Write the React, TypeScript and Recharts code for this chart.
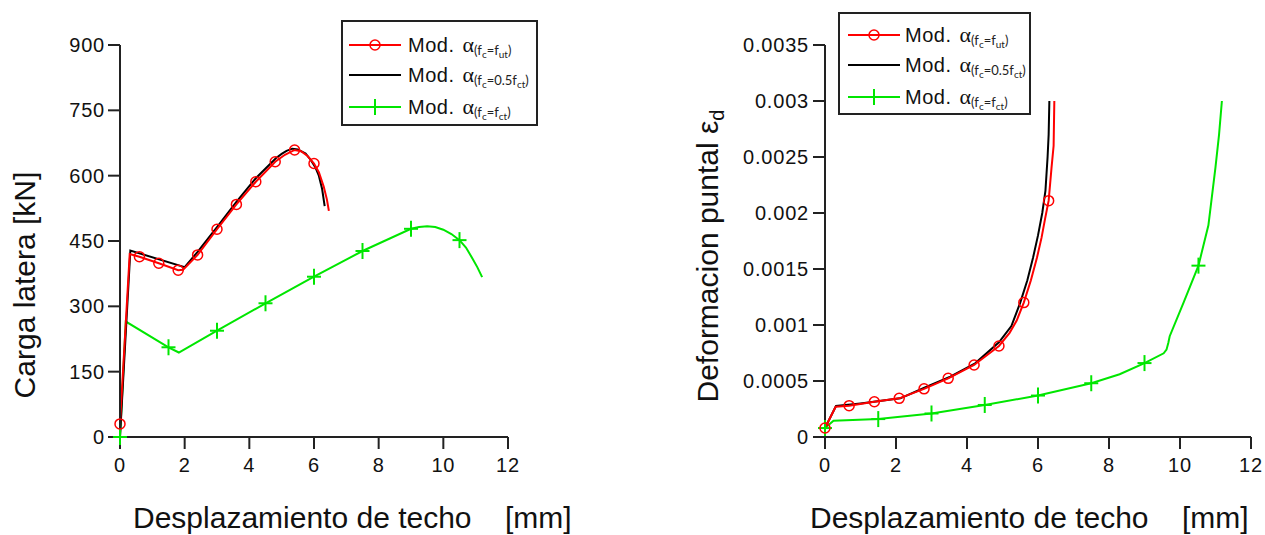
import { LineChart, Line, XAxis, YAxis } from "recharts";

const ticksDesp = [0, 2, 4, 6, 8, 10, 12];
const ticksCarga = [0, 150, 300, 450, 600, 750, 900];
const ticksDef = [0, 0.0005, 0.001, 0.0015, 0.002, 0.0025, 0.003, 0.0035];

// Carga lateral [kN] vs desplazamiento [mm]
const cargaFutX = [0, 0.3, 0.6, 1.2, 1.8, 1.95, 2.4, 3.0, 3.6, 4.2, 4.8, 5.1, 5.4, 5.6, 5.8, 6.0, 6.15, 6.3, 6.4, 6.46];
const cargaFutY = [30, 420, 414, 399, 383, 384, 418, 477, 534, 586, 632, 648, 659, 656, 645, 628, 608, 575, 545, 519];
const cargaFutMarcas = [0, 2, 3, 4, 6, 7, 8, 9, 10, 12, 15];

const cargaMediaX = [0, 0.32, 2.0, 2.4, 3.0, 3.6, 4.2, 4.82, 5.0, 5.15, 5.33, 5.5, 5.74, 5.9, 6.05, 6.15, 6.25, 6.33];
const cargaMediaY = [0, 428, 390, 425, 482, 540, 594, 640, 650, 657, 662, 660, 651, 636, 618, 600, 570, 530];

const cargaFctX = [0, 0.18, 1.5, 1.82, 3.0, 4.5, 6.0, 7.5, 9.0, 9.25, 9.5, 9.75, 10.0, 10.25, 10.5, 10.7, 10.9, 11.05, 11.2];
const cargaFctY = [0, 265, 206, 194, 244, 307, 368, 427, 478, 482, 484, 482, 476, 466, 452, 435, 410, 390, 367];
const cargaFctMarcas = [0, 2, 4, 5, 6, 7, 8, 14];

// Deformacion del puntal vs desplazamiento [mm]
const defFutX = [0, 0.3, 0.68, 1.39, 2.09, 2.79, 3.47, 4.2, 4.9, 5.2, 5.4, 5.6, 5.8, 5.97, 6.1, 6.2, 6.3, 6.38, 6.44, 6.46];
const defFutY = [0.00008, 0.00027, 0.00028, 0.000315, 0.000345, 0.00043, 0.000524, 0.000643, 0.000813, 0.00093, 0.00104, 0.0012, 0.0014, 0.0016, 0.00178, 0.00195, 0.00211, 0.0024, 0.0026, 0.003];
const defFutMarcas = [0, 2, 3, 4, 5, 6, 7, 8, 11, 16];

const defMediaX = [0, 0.31, 1.0, 2.12, 2.8, 3.53, 4.23, 4.9, 5.25, 5.5, 5.7, 5.86, 6.0, 6.12, 6.21, 6.27, 6.3, 6.32];
const defMediaY = [0.00008, 0.000277, 0.0003, 0.000345, 0.00044, 0.000538, 0.000658, 0.000845, 0.00099, 0.0012, 0.0014, 0.0016, 0.0018, 0.002, 0.0022, 0.0025, 0.0027, 0.003];

const defFctX = [0, 0.24, 1.5, 3.0, 4.5, 6.0, 7.5, 8.3, 9.0, 9.54, 9.62, 9.67, 9.71, 10.1, 10.52, 10.8, 11.0, 11.1, 11.18];
const defFctY = [0.00008, 0.000146, 0.00016, 0.00021, 0.000286, 0.00037, 0.00048, 0.00056, 0.00066, 0.000747, 0.00078, 0.00084, 0.0009, 0.0012, 0.00153, 0.00189, 0.00241, 0.0027, 0.003];
const defFctMarcas = [0, 2, 3, 4, 5, 6, 8, 14];

const ROJO = "#ff0000";
const VERDE = "#00e600";
const NEGRO = "#000000";
const EJE = "#222222";
const FUENTE = "'Liberation Sans', Arial, sans-serif";

const toPoints = (xs: number[], ys: number[]) => xs.map((x, i) => ({ x, y: ys[i] }));

const circulo = (marcas: number[]) => (p: any) => {
	const { cx, cy, index } = p;
	if (!marcas.includes(index)) return <g key={`c${index}`} />;
	return <circle key={`c${index}`} cx={cx} cy={cy} r={5} stroke={ROJO} strokeWidth={1.5} fill="none" />;
};

const cruz = (marcas: number[]) => (p: any) => {
	const { cx, cy, index } = p;
	if (!marcas.includes(index)) return <g key={`p${index}`} />;
	return (
		<g key={`p${index}`} stroke={VERDE} strokeWidth={2}>
			<line x1={cx - 7} y1={cy} x2={cx + 7} y2={cy} />
			<line x1={cx} y1={cy - 8} x2={cx} y2={cy + 8} />
		</g>
	);
};

const tickStyle = { fontSize: 20, fill: "#111", fontFamily: FUENTE, letterSpacing: 0.8 };

const Subindice = ({ parts }: { parts: [string, string][] }) => (
	<span style={{ fontFamily: "Lato, 'Open Sans', sans-serif", fontSize: 13, position: "relative", top: 5, color: "#222" }}>
		(
		{parts.map(([a, b], i) => (
			<span key={i}>
				{a}
				<span style={{ fontSize: 10, position: "relative", top: 3 }}>{b}</span>
			</span>
		))}
		)
	</span>
);

const filasLeyenda = [
	{ color: ROJO, marca: "circulo", parts: [["f", "c"], ["=f", "ut"]] as [string, string][] },
	{ color: NEGRO, marca: "", parts: [["f", "c"], ["=0.5f", "ct"]] as [string, string][] },
	{ color: VERDE, marca: "cruz", parts: [["f", "c"], ["=f", "ct"]] as [string, string][] },
];

const Leyenda = ({ left, top, width, height, rows, lineLeft }: { left: number; top: number; width: number; height: number; rows: number[]; lineLeft: number }) => (
	<div
		style={{
			position: "absolute",
			left,
			top,
			width,
			height,
			boxSizing: "border-box",
			border: `2px solid ${EJE}`,
			background: "#fff",
			fontFamily: FUENTE,
		}}
	>
		{filasLeyenda.map((f, i) => (
			<div key={i} style={{ position: "absolute", left: 0, top: rows[i] - 15, height: 30, width: "100%" }}>
				<svg width={54} height={30} style={{ position: "absolute", left: lineLeft, top: 0 }}>
					<line x1={0} y1={15} x2={52} y2={15} stroke={f.color} strokeWidth={2} />
					{f.marca === "circulo" && <circle cx={26} cy={15} r={5} stroke={ROJO} strokeWidth={1.5} fill="none" />}
					{f.marca === "cruz" && (
						<g stroke={VERDE} strokeWidth={2}>
							<line x1={26} y1={7} x2={26} y2={23} />
						</g>
					)}
				</svg>
				<div style={{ position: "absolute", left: 65, top: 0, height: 30, display: "flex", alignItems: "center", whiteSpace: "nowrap", color: "#111" }}>
					<span style={{ fontSize: 20, letterSpacing: 0.5 }}>Mod.&nbsp;</span>
					<span style={{ fontFamily: "'Liberation Serif', 'DejaVu Serif', serif", fontSize: 22, marginLeft: 2 }}>α</span>
					<Subindice parts={f.parts} />
				</div>
			</div>
		))}
	</div>
);

const tituloX = (left: number) => (
	<div style={{ position: "absolute", left, top: 501, fontSize: 30, fontFamily: FUENTE, whiteSpace: "pre", color: "#111" }}>
		{"Desplazamiento de techo    [mm]"}
	</div>
);

export default function App() {
	return (
		<div style={{ position: "absolute", left: 0, top: 0, width: 1265, height: 535, background: "#fff", overflow: "hidden" }}>
			<div style={{ position: "absolute", left: 0, top: 0 }}>
				<LineChart width={560} height={535} margin={{ top: 45, right: 52, bottom: 58, left: 0 }}>
					<XAxis
						type="number"
						dataKey="x"
						domain={[0, 12]}
						ticks={ticksDesp}
						tick={tickStyle}
						tickSize={12}
						tickMargin={9}
						height={40}
						stroke={EJE}
						strokeWidth={2}
						allowDuplicatedCategory={false}
					/>
					<YAxis
						type="number"
						dataKey="y"
						domain={[0, 900]}
						ticks={ticksCarga}
						tick={tickStyle}
						tickSize={12}
						tickMargin={3}
						width={120}
						stroke={EJE}
						strokeWidth={2}
					/>
					<Line data={toPoints(cargaFctX, cargaFctY)} dataKey="y" type="linear" stroke={VERDE} strokeWidth={2} dot={cruz(cargaFctMarcas)} isAnimationActive={false} />
					<Line data={toPoints(cargaMediaX, cargaMediaY)} dataKey="y" type="linear" stroke={NEGRO} strokeWidth={2} dot={false} isAnimationActive={false} />
					<Line data={toPoints(cargaFutX, cargaFutY)} dataKey="y" type="linear" stroke={ROJO} strokeWidth={2} dot={circulo(cargaFutMarcas)} isAnimationActive={false} />
				</LineChart>
			</div>

			<div style={{ position: "absolute", left: 620, top: 0 }}>
				<LineChart width={645} height={535} margin={{ top: 45, right: 14, bottom: 58, left: 0 }}>
					<XAxis
						type="number"
						dataKey="x"
						domain={[0, 12]}
						ticks={ticksDesp}
						tick={tickStyle}
						tickSize={12}
						tickMargin={9}
						height={40}
						stroke={EJE}
						strokeWidth={2}
						allowDuplicatedCategory={false}
					/>
					<YAxis
						type="number"
						dataKey="y"
						domain={[0, 0.0035]}
						ticks={ticksDef}
						tick={tickStyle}
						tickSize={12}
						tickMargin={4}
						width={205}
						stroke={EJE}
						strokeWidth={2}
					/>
					<Line data={toPoints(defFctX, defFctY)} dataKey="y" type="linear" stroke={VERDE} strokeWidth={2} dot={cruz(defFctMarcas)} isAnimationActive={false} />
					<Line data={toPoints(defMediaX, defMediaY)} dataKey="y" type="linear" stroke={NEGRO} strokeWidth={2} dot={false} isAnimationActive={false} />
					<Line data={toPoints(defFutX, defFutY)} dataKey="y" type="linear" stroke={ROJO} strokeWidth={2} dot={circulo(defFutMarcas)} isAnimationActive={false} />
				</LineChart>
			</div>

			<div
				style={{
					position: "absolute",
					left: 25,
					top: 285,
					transform: "translate(-50%, -50%) rotate(-90deg)",
					fontSize: 30,
					fontFamily: FUENTE,
					whiteSpace: "nowrap",
					color: "#111",
				}}
			>
				Carga latera [kN]
			</div>
			<div
				style={{
					position: "absolute",
					left: 708,
					top: 256,
					transform: "translate(-50%, -50%) rotate(-90deg)",
					fontSize: 30,
					fontFamily: FUENTE,
					whiteSpace: "nowrap",
					color: "#111",
				}}
			>
				Deformacion puntal ε<span style={{ fontSize: 20, position: "relative", top: 6 }}>d</span>
			</div>

			{tituloX(133)}
			{tituloX(810)}

			<Leyenda left={341} top={20} width={197} height={106} rows={[23, 53, 85]} lineLeft={6} />
			<Leyenda left={838} top={12} width={193} height={103} rows={[21, 51, 83]} lineLeft={8} />
		</div>
	);
}
